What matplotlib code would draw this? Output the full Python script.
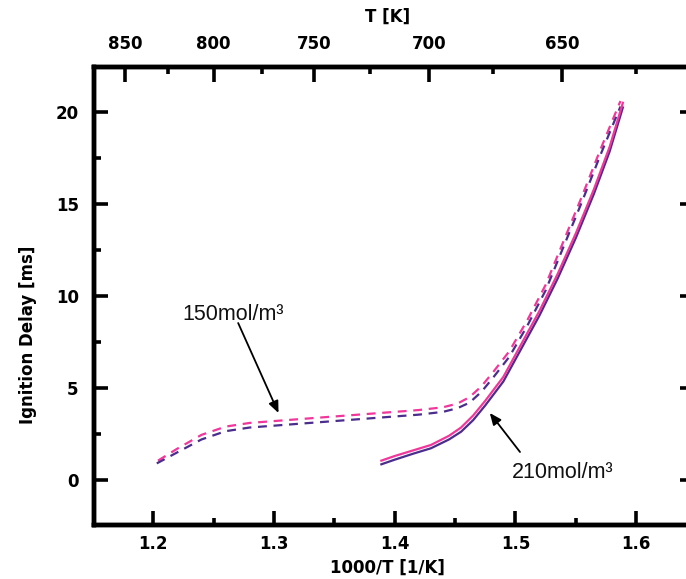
import matplotlib
matplotlib.use("Agg")
import matplotlib.pyplot as plt
import numpy as np

# ---- data ----
x_dash_pink = [1.204, 1.22, 1.24, 1.26, 1.28, 1.30, 1.33, 1.36, 1.39, 1.42, 1.44, 1.452, 1.462, 1.472, 1.482, 1.495, 1.51, 1.525, 1.54, 1.555, 1.57, 1.587]
y_dash_pink = [1.05, 1.7, 2.45, 2.9, 3.1, 3.2, 3.35, 3.5, 3.65, 3.8, 3.95, 4.15, 4.5, 5.1, 5.9, 7.0, 8.7, 10.6, 13.0, 15.4, 17.9, 20.6]

x_dash_purple = [1.203, 1.22, 1.24, 1.26, 1.28, 1.30, 1.33, 1.36, 1.39, 1.42, 1.44, 1.452, 1.462, 1.472, 1.482, 1.495, 1.51, 1.525, 1.54, 1.555, 1.57, 1.587]
y_dash_purple = [0.9, 1.5, 2.2, 2.65, 2.85, 2.95, 3.1, 3.25, 3.4, 3.55, 3.7, 3.9, 4.2, 4.8, 5.6, 6.7, 8.4, 10.3, 12.7, 15.1, 17.6, 20.3]

x_solid_pink = [1.389, 1.40, 1.415, 1.43, 1.445, 1.455, 1.465, 1.475, 1.49, 1.505, 1.52, 1.535, 1.55, 1.565, 1.578, 1.589]
y_solid_pink = [1.05, 1.3, 1.6, 1.9, 2.4, 2.85, 3.5, 4.3, 5.6, 7.4, 9.2, 11.2, 13.4, 15.8, 18.1, 20.5]

x_solid_purple = [1.389, 1.40, 1.415, 1.43, 1.445, 1.455, 1.465, 1.475, 1.49, 1.505, 1.52, 1.535, 1.55, 1.565, 1.578, 1.589]
y_solid_purple = [0.85, 1.1, 1.42, 1.72, 2.2, 2.62, 3.25, 4.05, 5.35, 7.15, 8.95, 10.95, 13.15, 15.55, 17.85, 20.25]

bottom_ticks = [1.2, 1.3, 1.4, 1.5, 1.6]
bottom_minor = [1.25, 1.35, 1.45, 1.55]
y_ticks = [0, 5, 10, 15, 20]
y_minor = [2.5, 7.5, 12.5, 17.5]
top_temps = [850, 800, 750, 700, 650]
top_minor_temps = [825, 775, 725, 675, 625]

label_150 = "150mol/m³"
label_210 = "210mol/m³"

PINK = "#f2369b"
PURPLE = "#4a2d8c"

W, H = 686, 579
fig = plt.figure(figsize=(W / 100, H / 100), dpi=100)
ax = fig.add_axes([94 / W, 1 - 525 / H, (693.5 - 94) / W, (525 - 67) / H])

dash = (0, (4, 3))
ax.plot(x_dash_pink, y_dash_pink, color=PINK, lw=1.6, linestyle=dash)
ax.plot(x_dash_purple, y_dash_purple, color=PURPLE, lw=1.6, linestyle=dash)
ax.plot(x_solid_purple, y_solid_purple, color=PURPLE, lw=1.6)
ax.plot(x_solid_pink, y_solid_pink, color=PINK, lw=1.6)

ax.set_xlim(1.151, 1.6475)
ax.set_ylim(-2.45, 22.45)

for sp in ax.spines.values():
    sp.set_linewidth(3.2)
    sp.set_color("black")

ax.set_xticks(bottom_ticks)
ax.set_xticklabels([f"{v:.1f}" for v in bottom_ticks])
ax.set_xticks(bottom_minor, minor=True)
ax.set_yticks(y_ticks)
ax.set_yticks(y_minor, minor=True)

ax.tick_params(axis="both", which="major", direction="in", length=10, width=2.6,
               labelsize=12, right=True)
ax.tick_params(axis="both", which="minor", direction="in", length=5, width=2.6, right=True)
ax.tick_params(axis="x", which="major", pad=7)
ax.tick_params(axis="y", which="major", pad=11)
for lab in ax.get_xticklabels() + ax.get_yticklabels():
    lab.set_fontweight("bold")

ax.set_xlabel("1000/T [1/K]", fontsize=12, fontweight="bold")
ax.xaxis.set_label_coords(0.489, -0.094)
ax.xaxis.label.set_va("center")
ax.set_ylabel("Ignition Delay [ms]", fontsize=12, fontweight="bold")
ax.yaxis.set_label_coords(-0.11, 0.415)
ax.yaxis.label.set_va("center")

# top temperature axis
axt = ax.twiny()
axt.set_xlim(ax.get_xlim())
axt.set_xticks([1000.0 / t for t in top_temps])
axt.set_xticklabels([str(t) for t in top_temps])
axt.set_xticks([1000.0 / t for t in top_minor_temps], minor=True)
axt.tick_params(axis="x", which="major", direction="in", length=11, width=2.6,
                labelsize=12, pad=10)
axt.tick_params(axis="x", which="minor", direction="in", length=5, width=2.6)
for lab in axt.get_xticklabels():
    lab.set_fontweight("bold")
for sp in axt.spines.values():
    sp.set_linewidth(3.2)
axt.set_xlabel("T [K]", fontsize=12, fontweight="bold")
axt.xaxis.set_label_coords(0.49, 1.109)
axt.xaxis.label.set_va("center")

# annotations
arrowprops = dict(arrowstyle="-|>,head_length=0.7,head_width=0.3", color="black", lw=1.3,
                  shrinkA=0, shrinkB=0)
ax.annotate("", xy=(1.3038, 3.64), xytext=(1.2704, 8.53), arrowprops=arrowprops)
ax.text(1.2246, 8.97, label_150, fontsize=15.5, family="Liberation Sans",
        ha="left", va="center", color="#111111")
ax.annotate("", xy=(1.4788, 3.64), xytext=(1.5038, 1.52), arrowprops=arrowprops)
ax.text(1.497, 0.38, label_210, fontsize=15.5, family="Liberation Sans",
        ha="left", va="center", color="#111111")

fig.savefig("out.png", dpi=100)
